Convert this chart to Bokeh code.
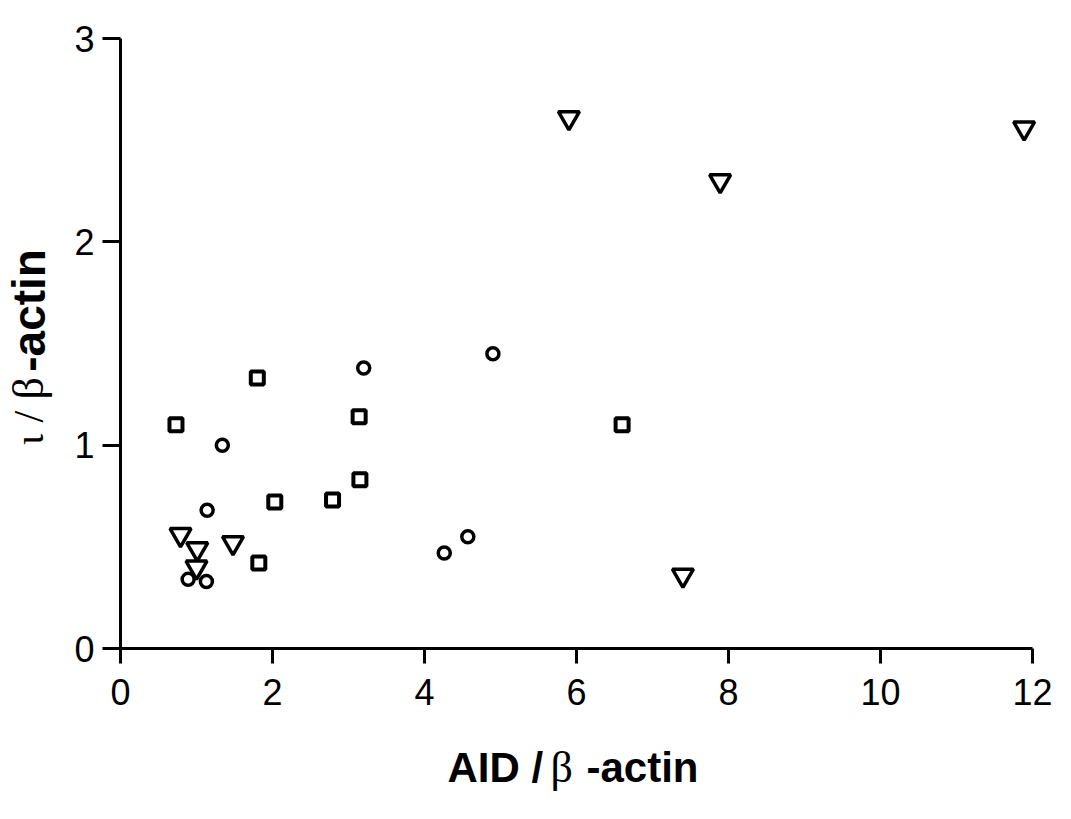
import math
from bokeh.plotting import figure
from bokeh.models import Range1d, FixedTicker, Label
from bokeh.layouts import row, column
from bokeh.embed import file_html
from bokeh.resources import INLINE

# ---- data ----
square_x = [0.73, 1.80, 1.82, 2.03, 2.79, 3.14, 3.15, 6.60]
square_y = [1.10, 1.33, 0.42, 0.72, 0.73, 1.14, 0.83, 1.10]

circle_x = [0.89, 1.13, 1.14, 1.34, 3.20, 4.26, 4.57, 4.90]
circle_y = [0.34, 0.33, 0.68, 1.00, 1.38, 0.47, 0.55, 1.45]

tri_x = [0.79, 1.01, 1.00, 1.48, 5.90, 7.40, 7.89, 11.89]
tri_y = [0.56, 0.49, 0.40, 0.52, 2.61, 0.36, 2.30, 2.56]

x_ticks = [0, 2, 4, 6, 8, 10, 12]
y_ticks = [0, 1, 2, 3]

# ---- layout sizes (pixels) ----
YT_W = 70            # strip holding the y title
FW, FH = 922, 610    # plotting frame
ML, MR, MT, MB = 50, 21, 38, 75
MAIN_H = MT + FH + MB
XT_H = 88            # strip holding the x title
TOTAL_W = YT_W + ML + FW + MR

X_END = 12 + 10 / 76
Y_END = 3

p = figure(
    frame_width=FW, frame_height=FH,
    min_border_left=ML, min_border_right=MR, min_border_top=MT, min_border_bottom=MB,
    x_range=Range1d(0, X_END), y_range=Range1d(0, Y_END),
    output_backend="svg", toolbar_location=None,
)
p.outline_line_color = None
p.grid.visible = False
p.background_fill_color = "white"
p.border_fill_color = "white"

for ax in (p.xaxis[0], p.yaxis[0]):
    ax.axis_line_width = 3
    ax.axis_line_color = "black"
    ax.major_tick_line_width = 3
    ax.major_tick_line_color = "black"
    ax.major_tick_in = 0
    ax.minor_tick_out = 0
    ax.minor_tick_in = 0
    ax.major_label_text_font = "Liberation Sans"
    ax.major_label_text_font_size = "36px"
    ax.major_label_text_color = "black"

p.xaxis[0].ticker = FixedTicker(ticks=x_ticks)
p.yaxis[0].ticker = FixedTicker(ticks=y_ticks)
p.xaxis[0].bounds = (0, 12)
p.xaxis[0].major_tick_out = 15
p.yaxis[0].major_tick_out = 18
p.xaxis[0].major_label_standoff = 15
p.yaxis[0].major_label_standoff = 8

p.scatter(square_x, square_y, marker="square", size=13, fill_color=None,
          line_color="black", line_width=4)
p.scatter(circle_x, circle_y, marker="circle", size=12, fill_color=None,
          line_color="black", line_width=3.5)
p.scatter(tri_x, tri_y, marker="inverted_triangle", size=21, fill_color=None,
          line_color="black", line_width=3.5)


def strip(w, h):
    f = figure(width=w, height=h, x_range=Range1d(0, w), y_range=Range1d(0, h),
               min_border=0, x_axis_type=None, y_axis_type=None, title=None,
               output_backend="svg", toolbar_location=None)
    f.outline_line_color = None
    f.grid.visible = False
    f.background_fill_color = "white"
    f.border_fill_color = "white"
    return f


def lab(f, text, x, y, font, style, size, angle=0.0):
    f.add_layout(Label(x=x, y=y, text=text,
                       text_font=font, text_font_style=style, text_font_size=size,
                       text_color="black", text_align="left",
                       text_baseline="alphabetic", angle=angle))


# ---- y title strip (mixed fonts, rotated) ----
yt = strip(YT_W, MAIN_H)
a = math.pi / 2
YB = 28  # baseline column
def yimg(v):
    return MAIN_H - (v + 43)
lab(yt, "\u03b9", YB, yimg(439), "Liberation Serif", "normal", "42px", a)
lab(yt, "/", YB, yimg(412), "Liberation Serif", "normal", "42px", a)
lab(yt, "\u03b2", YB, yimg(385), "Liberation Serif", "normal", "44px", a)
lab(yt, "-actin", YB, yimg(352), "Liberation Sans", "bold", "46px", a)

# ---- x title strip (mixed fonts) ----
xt = strip(TOTAL_W, XT_H)
base = XT_H - (783 - 16 - MAIN_H)
lab(xt, "AID /", 447, base, "Liberation Sans", "bold", "42px")
lab(xt, "\u03b2", 550, base, "Liberation Serif", "normal", "44px")
lab(xt, "-actin", 586, base, "Liberation Sans", "bold", "42px")

layout = column(row(yt, p, spacing=0), xt, spacing=0)
open("out.html", "w").write(file_html(layout, INLINE))
